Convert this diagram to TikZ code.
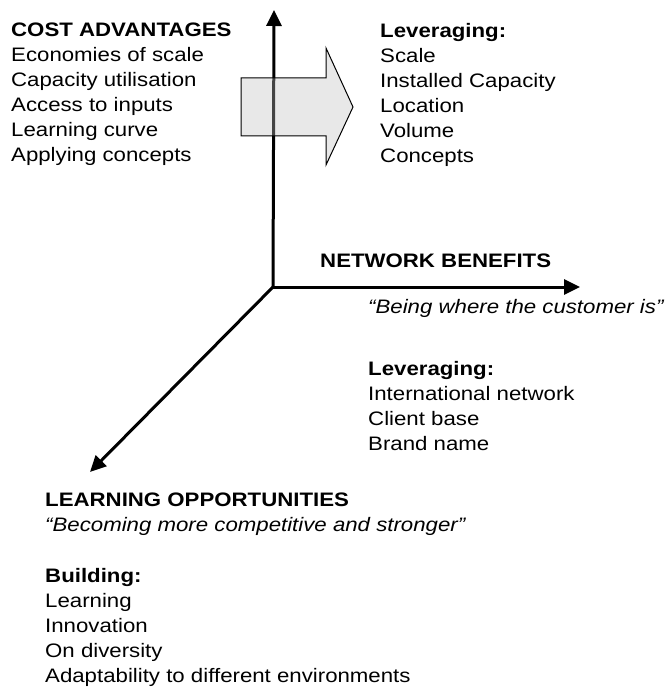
\documentclass[tikz,border=0pt]{standalone}
\usepackage{fontspec}
\setmainfont{Liberation Sans}[FakeStretch=1.14]
\usetikzlibrary{arrows.meta}
\tikzstyle{every node}=[font=\fontsize{19.5}{25}\selectfont,inner sep=0pt,align=left,anchor=north west]
\tikzstyle{axis}=[line width=3pt,-{Triangle[length=16pt,width=15pt]}]
\tikzstyle{block}=[draw=black,line width=1pt,fill=gray!50,fill opacity=0.36]

\begin{document}
\begin{tikzpicture}[x=1pt,y=-1pt]
	\useasboundingbox (0,0) rectangle (670,695);
	\coordinate (o) at (273,287);
	\coordinate (up) at (274,10);
	\coordinate (right) at (580,287);
	\coordinate (down) at (90,472);
	\draw[axis] (o) -- (up);
	\draw[axis] (o) -- (right);
	\draw[axis] (o) -- (down);
	% big arrow between the two lists
	\draw[block] (241,78) -- (326,78) -- (326,48) -- (353,107) --
		(326,165) -- (326,136) -- (241,136) -- cycle;
	% texts
	\node (cost) at (11,23) {\textbf{COST ADVANTAGES}\\Economies of scale\\Capacity utilisation\\Access to inputs\\Learning curve\\Applying concepts};
	\node (lev1) at (380,23) {\textbf{Leveraging:}\\Scale\\Installed Capacity\\Location\\Volume\\Concepts};
	\node (net) at (320,254) {\textbf{NETWORK BENEFITS}};
	\node (quote1) at (368,299) {\textit{“Being where the customer is”}};
	\node (lev2) at (368,361) {\textbf{Leveraging:}\\International network\\Client base\\Brand name};
	\node (learn) at (45,493) {\textbf{LEARNING OPPORTUNITIES}\\\textit{“Becoming more competitive and stronger”}};
	\node (build) at (45,568) {\textbf{Building:}\\Learning\\Innovation\\On diversity\\Adaptability to different environments};
\end{tikzpicture}
\end{document}
